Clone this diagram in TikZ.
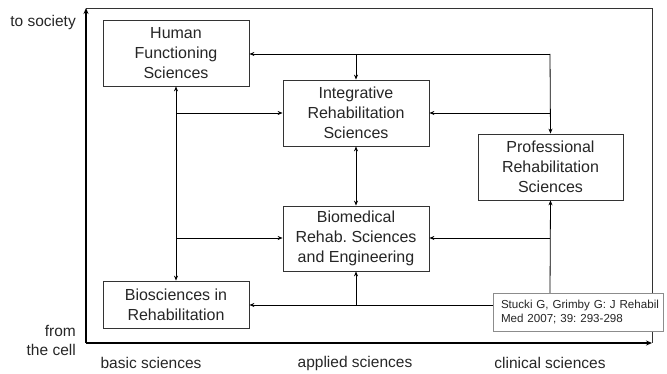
\documentclass[tikz,border=0pt]{standalone}
\usepackage{fontspec}
\setmainfont{Liberation Sans}
\usetikzlibrary{arrows.meta}
\frenchspacing
\begin{document}
\begin{tikzpicture}[x=1pt,y=-1pt,
  box/.style={draw=black!80,line width=0.8pt,fill=white,inner sep=0pt,align=center,
    text=black!85,font=\fontsize{16}{19.8}\selectfont},
  lbl/.style={text=black!85,font=\fontsize{15.5}{19}\selectfont,inner sep=0pt},
  conn/.style={line width=0.8pt,-{Stealth[length=5pt,width=4pt]}},
  dconn/.style={line width=0.8pt,{Stealth[length=5pt,width=4pt]}-{Stealth[length=5pt,width=4pt]}},
  axis/.style={line width=1.7pt,-{Stealth[length=6pt,width=5pt]}}]
\useasboundingbox (0,0) rectangle (667,374);
% frame
\coordinate (o) at (86,343);
\coordinate (tl) at (86,8);
\coordinate (tr) at (652,8);
\coordinate (br) at (652,343);
\draw[line width=0.8pt,black!80] (tl) -- (tr) -- (br);
\draw[axis] (o) -- (tl);
\draw[axis] (o) -- (br);
% boxes
\node[box,minimum width=146,minimum height=66] (hfs) at (176,53) {Human\\Functioning\\Sciences};
\node[box,minimum width=146,minimum height=66] (irs) at (356,113) {Integrative\\Rehabilitation\\Sciences};
\node[box,minimum width=145,minimum height=66] (prs) at (550.5,167) {Professional\\Rehabilitation\\Sciences};
\node[box,minimum width=146,minimum height=65] (brs) at (356,238.5) {Biomedical\\Rehab. Sciences\\and Engineering};
\node[box,minimum width=146,minimum height=47] (bir) at (176,304.5) {Biosciences in\\Rehabilitation};
% connectors
\coordinate (a1) at (550,54);
\coordinate (a2) at (356,54);
\coordinate (c1) at (550,113);
\coordinate (c2) at (550,238);
\coordinate (l1) at (176,113);
\coordinate (l2) at (176,238);
\coordinate (b1) at (356,305);
\draw[conn] (a1) -- (hfs.east |- a1);
\draw[conn] (a2) -- (irs.north);
\draw[conn] (a1) -- (prs.north);
\draw[conn] (c1) -- (irs.east |- c1);
\draw[dconn] (hfs.south) -- (bir.north);
\draw[conn] (l1) -- (irs.west |- l1);
\draw[conn] (l2) -- (brs.west |- l2);
\draw[dconn] (irs.south) -- (brs.north);
\draw[conn] (c2) -- (brs.east |- c2);
\coordinate (cb) at (550,293);
\draw[conn] (cb) -- (prs.south);
\coordinate (cl) at (493,305);
\draw[conn] (cl) -- (bir.east |- cl);
\draw[conn] (b1) -- (brs.south);
% citation
\node[draw=black!45,line width=0.8pt,fill=white,minimum width=170,minimum height=38,inner xsep=8,inner ysep=0pt,
  text width=154,align=left,text=black!85,font=\fontsize{11.6}{14}\selectfont] (cite) at (578,312)
  {\mbox{Stucki G, Grimby G: J Rehabil}\\\mbox{Med 2007; 39: 293-298}};
% labels
\node[lbl,anchor=east] (ts) at (76,22) {to society};
\node[lbl,anchor=east,align=right] (fc) at (76,340) {from\\the cell};
\node[lbl] (bs) at (151,363) {basic sciences};
\node[lbl] (as) at (355,363) {applied sciences};
\node[lbl] (cs) at (550,363) {clinical sciences};
\end{tikzpicture}
\end{document}
